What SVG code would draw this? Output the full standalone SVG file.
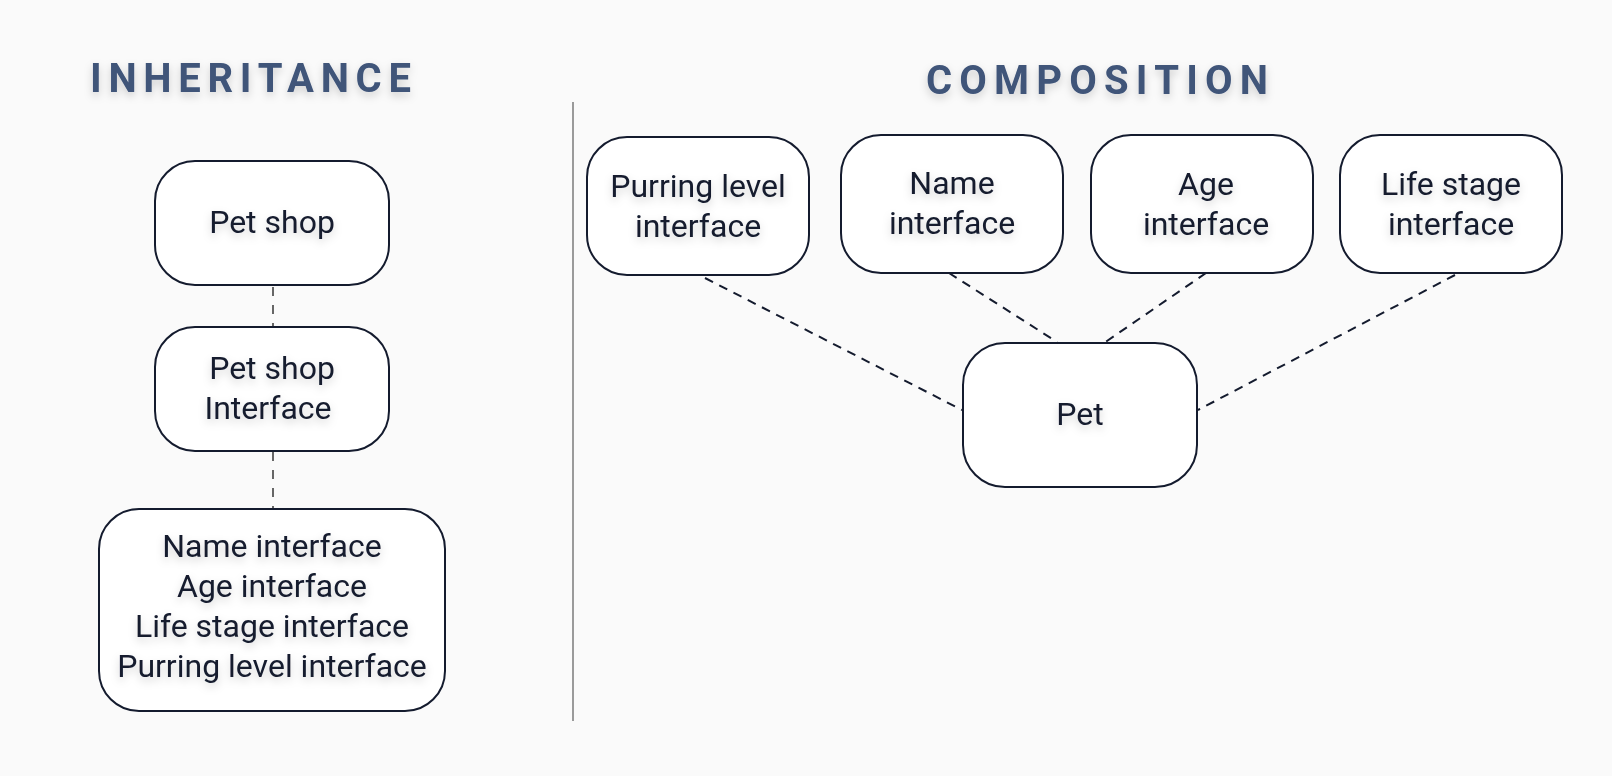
<svg xmlns="http://www.w3.org/2000/svg" width="1612" height="776" viewBox="0 0 1612 776">
<defs>
<filter id="ts" x="-20%" y="-40%" width="140%" height="200%">
<feDropShadow dx="0" dy="4" stdDeviation="4" flood-color="#000" flood-opacity="0.18"/>
</filter>
<style>
.title{font-family:Roboto,"Liberation Sans",sans-serif;font-weight:700;font-size:40px;fill:#3f5479;filter:url(#ts)}
.box{fill:#ffffff;stroke:#141b2e;stroke-width:2}
.lbl{font-family:Roboto,"Liberation Sans",sans-serif;font-size:32px;fill:#141b2e;text-anchor:middle;filter:url(#ts)}
.inh{stroke:#666;stroke-width:2;stroke-dasharray:9 9;fill:none}
.cmp{stroke:#141b2e;stroke-width:2;stroke-dasharray:9 7;fill:none}
</style>
</defs>
<rect x="0" y="0" width="1612" height="776" fill="#fafafa"/>
<text class="title" x="90" y="92" textLength="321" lengthAdjust="spacing">INHERITANCE</text>
<text class="title" x="926" y="94" textLength="342" lengthAdjust="spacing">COMPOSITION</text>
<line x1="573" y1="102" x2="573" y2="721" stroke="#9a9a9a" stroke-width="2"/>
<g id="connectors">
<line class="inh" x1="273" y1="287" x2="273" y2="326"/>
<line class="inh" x1="273" y1="452" x2="273" y2="508"/>
<line class="cmp" x1="705" y1="278" x2="962" y2="410"/>
<line class="cmp" x1="949" y1="273" x2="1057" y2="342"/>
<line class="cmp" x1="1206" y1="273" x2="1104" y2="343"/>
<line class="cmp" x1="1455" y1="275" x2="1198" y2="410"/>
</g>
<g id="petshop"><rect class="box" x="155" y="161" width="234" height="124" rx="40"/><text class="lbl" x="272" y="233">Pet shop</text></g>
<g id="petshopinterface"><rect class="box" x="155" y="327" width="234" height="124" rx="40"/><text class="lbl" x="272" y="379">Pet shop</text><text class="lbl" x="268" y="419">Interface</text></g>
<g id="interfaces"><rect class="box" x="99" y="509" width="346" height="202" rx="40"/>
<text class="lbl" x="272" y="557">Name interface</text>
<text class="lbl" x="272" y="597">Age interface</text>
<text class="lbl" x="272" y="637">Life stage interface</text>
<text class="lbl" x="272" y="677">Purring level interface</text></g>
<g id="purring"><rect class="box" x="587" y="137" width="222" height="138" rx="40"/><text class="lbl" x="698" y="197">Purring level</text><text class="lbl" x="698" y="237">interface</text></g>
<g id="name"><rect class="box" x="841" y="135" width="222" height="138" rx="40"/><text class="lbl" x="952" y="194">Name</text><text class="lbl" x="952" y="234">interface</text></g>
<g id="age"><rect class="box" x="1091" y="135" width="222" height="138" rx="40"/><text class="lbl" x="1206" y="195">Age</text><text class="lbl" x="1206" y="235">interface</text></g>
<g id="lifestage"><rect class="box" x="1340" y="135" width="222" height="138" rx="40"/><text class="lbl" x="1451" y="195">Life stage</text><text class="lbl" x="1451" y="235">interface</text></g>
<g id="pet"><rect class="box" x="963" y="343" width="234" height="144" rx="42"/><text class="lbl" x="1080" y="425">Pet</text></g>
</svg>
